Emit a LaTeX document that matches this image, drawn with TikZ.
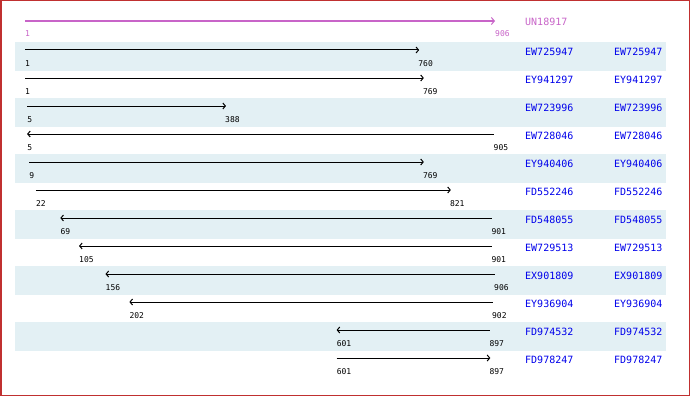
\documentclass[tikz,border=0pt]{standalone}
\usepackage{fontspec}
\setmonofont{DejaVu Sans Mono}
\usetikzlibrary{arrows.meta}
\definecolor{frame}{RGB}{192,48,48}
\definecolor{band}{RGB}{227,240,244}
\definecolor{unc}{RGB}{200,100,200}
\definecolor{acc}{RGB}{0,0,235}
\begin{document}
\begin{tikzpicture}[x=1pt,y=-1pt,
  namelbl/.style={anchor=west,font=\ttfamily\fontsize{10}{10}\selectfont,text=acc,inner sep=0pt},
  numlbl/.style={anchor=west,font=\ttfamily\fontsize{8}{8}\selectfont,inner sep=0pt},
  hit/.style={line width=1pt},
  fwd/.style={-{Straight Barb[length=2.5pt,width=6pt]}},
  rev/.style={{Straight Barb[length=2.5pt,width=6pt]}-},
]
\useasboundingbox (0,0) rectangle (690,396);
\fill[white] (0,0) rectangle (690,396);
% shaded bands
\foreach \i in {1,3,...,11}
  \fill[band] (15,{42+28*(\i-1)}) rectangle (666,{42+28*(\i-1)+29});
% query row
\coordinate (qs) at (25,21);
\coordinate (qe) at (495,21);
\draw[line width=2pt,unc,-{Straight Barb[length=3pt,width=7pt,line width=1pt]}] (qs) -- (qe);
\node[numlbl,text=unc] (q1) at (25,34) {1};
\node[numlbl,text=unc] (q2) at (495,34) {906};
\node[namelbl,text=unc] (qn) at (525,22) {UN18917};
% hits
\foreach \i/\a/\b/\d/\n in {
  1/1/760/fwd/EW725947,
  2/1/769/fwd/EY941297,
  3/5/388/fwd/EW723996,
  4/5/905/rev/EW728046,
  5/9/769/fwd/EY940406,
  6/22/821/fwd/FD552246,
  7/69/901/rev/FD548055,
  8/105/901/rev/EW729513,
  9/156/906/rev/EX901809,
  10/202/902/rev/EY936904,
  11/601/897/rev/FD974532,
  12/601/897/fwd/FD978247}{
  \pgfmathsetmacro\ty{42+28*(\i-1)}
  \pgfmathsetmacro\xa{25+(\a-1)*0.519337}
  \pgfmathsetmacro\xb{25+(\b-1)*0.519337}
  \coordinate (s\i) at (\xa,\ty+8);
  \coordinate (e\i) at (\xb,\ty+8);
  \draw[hit,\d] (s\i) -- (e\i);
  \node[numlbl] (a\i) at (\xa,\ty+22) {\a};
  \node[numlbl] (b\i) at (\xb-1,\ty+22) {\b};
  \node[namelbl] (n\i) at (525,\ty+10) {\n};
  \node[namelbl] (m\i) at (614,\ty+10) {\n};
}
% frame
\draw[frame,line width=1.5pt] (0.75,0.75) rectangle (689.25,395.25);
\end{tikzpicture}
\end{document}
